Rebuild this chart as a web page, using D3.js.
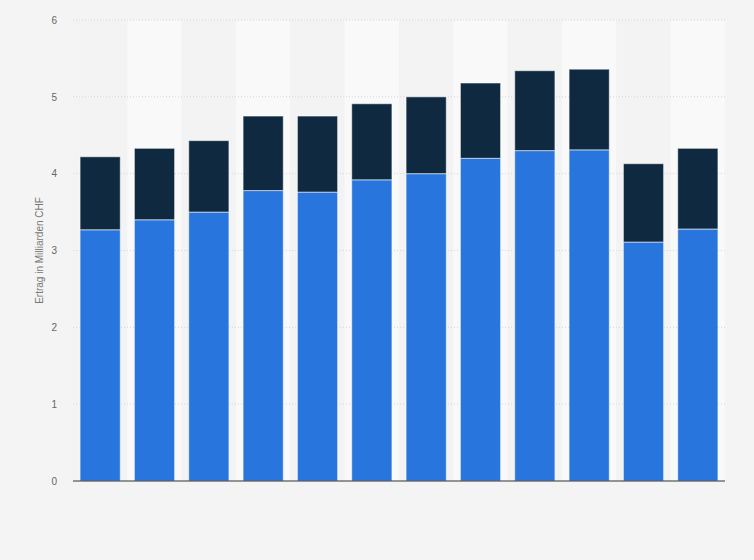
<!DOCTYPE html>
<html>
<head>
<meta charset="utf-8">
<script src="https://cdn.jsdelivr.net/npm/d3@7"></script>
<style>
  body { margin: 0; background: #f4f4f4; }
  svg { display: block; font-family: "Liberation Sans", Arial, sans-serif; }
</style>
</head>
<body>
<div id="chart"></div>
<script>
// one entry per bar, left to right (no x labels shown in the source)
const categories = ["1", "2", "3", "4", "5", "6", "7", "8", "9", "10", "11", "12"];
const lowerValues = [3.27, 3.40, 3.50, 3.78, 3.76, 3.92, 4.00, 4.20, 4.30, 4.31, 3.11, 3.28];
const upperValues = [0.95, 0.93, 0.93, 0.97, 0.99, 0.99, 1.00, 0.98, 1.04, 1.05, 1.02, 1.05];
const yTicks = [0, 1, 2, 3, 4, 5, 6];

const W = 754, H = 560;
const margin = { top: 20, right: 29, bottom: 79, left: 73 };
const width = W - margin.left - margin.right;
const height = H - margin.top - margin.bottom;

const svg = d3.select("#chart").append("svg")
  .attr("width", W)
  .attr("height", H);

svg.append("rect").attr("width", W).attr("height", H).attr("fill", "#f4f4f4");

const g = svg.append("g").attr("transform", `translate(${margin.left},${margin.top})`);

const x = d3.scaleBand().domain(categories).range([0, width]).paddingInner(0.26).paddingOuter(0.13);
const y = d3.scaleLinear().domain([0, 6]).range([height, 0]);

// alternating column bands
const step = x.step();
g.selectAll(".band")
  .data(categories)
  .enter().append("rect")
  .attr("class", "band")
  .attr("x", (d, i) => i * step)
  .attr("y", 0)
  .attr("width", step)
  .attr("height", height)
  .attr("fill", (d, i) => i % 2 === 1 ? "#f9f9f9" : "#f3f3f3");

// gridlines
g.selectAll(".grid")
  .data(yTicks.filter(t => t > 0))
  .enter().append("line")
  .attr("class", "grid")
  .attr("x1", 0)
  .attr("x2", width)
  .attr("y1", d => y(d))
  .attr("y2", d => y(d))
  .attr("stroke", "#d6d6d6")
  .attr("stroke-dasharray", "1,2");

// stacked bars
const rows = categories.map((c, i) => ({ cat: c, lower: lowerValues[i], upper: upperValues[i] }));
const stack = d3.stack().keys(["lower", "upper"])(rows);
const color = d3.scaleOrdinal().domain(["lower", "upper"]).range(["#2876dd", "#0f2a40"]);

g.selectAll(".series")
  .data(stack)
  .enter().append("g")
  .attr("fill", d => color(d.key))
  .selectAll("rect")
  .data(d => d)
  .enter().append("rect")
  .attr("x", d => x(d.data.cat))
  .attr("y", d => y(d[1]))
  .attr("width", x.bandwidth())
  .attr("height", d => y(d[0]) - y(d[1]))
  .attr("stroke", "#ffffff")
  .attr("stroke-opacity", 0.55)
  .attr("stroke-width", 1);

// y axis labels
const yAxis = g.append("g")
  .call(d3.axisLeft(y).tickValues(yTicks).tickFormat(d3.format("d")).tickSize(0).tickPadding(16));
yAxis.select(".domain").remove();
yAxis.selectAll("text")
  .attr("fill", "#666")
  .style("font-size", "10px");

// baseline
g.append("line")
  .attr("x1", 0)
  .attr("x2", width)
  .attr("y1", height)
  .attr("y2", height)
  .attr("stroke", "#333")
  .attr("stroke-width", 1.2);

// y axis title
svg.append("text")
  .attr("transform", `translate(43,${margin.top + height / 2}) rotate(-90)`)
  .attr("text-anchor", "middle")
  .attr("fill", "#777")
  .style("font-size", "10px")
  .text("Ertrag in Milliarden CHF");
</script>
</body>
</html>
